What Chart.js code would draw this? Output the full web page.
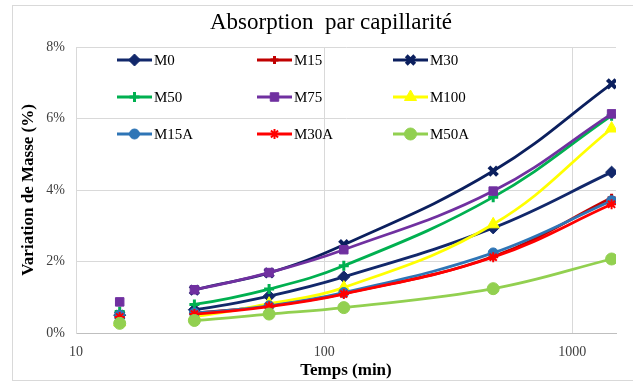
<!DOCTYPE html>
<html>
<head>
<meta charset="utf-8">
<script src="https://cdn.jsdelivr.net/npm/chart.js@4"></script>
<style>
  body { margin: 0; background: #fff; }
  #wrap { width: 633px; height: 381px; }
</style>
</head>
<body>
<div id="wrap"><canvas id="myChart" width="633" height="381"></canvas></div>
<script>
// time in minutes
const temps = [15, 30, 60, 120, 480, 1440];
const xTicks = [10, 100, 1000];
const yTicks = [0, 2, 4, 6, 8];

// mass variation (%)
const M0   = [0.50, 0.65, 1.03, 1.57, 2.94, 4.50];
const M15  = [0.45, 0.56, 0.76, 1.10, 2.14, 3.78];
const M30  = [0.50, 1.20, 1.68, 2.47, 4.53, 6.97];
const M50  = [0.60, 0.80, 1.23, 1.88, 3.80, 6.08];
const M75  = [0.87, 1.21, 1.69, 2.33, 3.97, 6.13];
const M100 = [0.30, 0.46, 0.82, 1.27, 3.04, 5.72];
const M15A = [0.50, 0.56, 0.76, 1.13, 2.24, 3.70];
const M30A = [0.45, 0.53, 0.74, 1.09, 2.12, 3.60];
const M50A = [0.27, 0.35, 0.53, 0.71, 1.24, 2.07];

const names = ['M0', 'M15', 'M30', 'M50', 'M75', 'M100', 'M15A', 'M30A', 'M50A'];
const values = [M0, M15, M30, M50, M75, M100, M15A, M30A, M50A];
const colors = ['#12286b', '#c00000', '#0b1f5e', '#00b050', '#7030a0', '#ffff00', '#2e75b6', '#ff0000', '#92d050'];
const styles = ['rectRot', 'cross', 'crossRot', 'cross', 'rect', 'triangle', 'circle', 'star', 'circle'];
const radii  = [6, 4, 6, 5, 6, 7, 5, 5, 6];
const pbw    = [1, 3, 4, 3, 1, 1, 1, 2, 1];

const datasets = names.map((n, i) => ({
  label: n,
  data: temps.map((t, k) => ({x: t, y: values[i][k]})),
  borderColor: colors[i],
  backgroundColor: colors[i],
  pointBackgroundColor: colors[i],
  pointBorderColor: colors[i],
  pointStyle: styles[i],
  pointRadius: radii[i],
  pointBorderWidth: pbw[i],
  borderWidth: 2.8,
  tension: 0.4,
  order: names.length - i,
  // no line between the first two points
  segment: { borderColor: ctx => ctx.p0DataIndex === 0 ? 'rgba(0,0,0,0)' : undefined }
}));

const frameAndText = {
  id: 'frameAndText',
  beforeDraw(chart) {
    const c = chart.ctx;
    c.save();
    c.fillStyle = '#fff';
    c.fillRect(0, 0, chart.width, chart.height);
    c.strokeStyle = '#d9d9d9';
    c.lineWidth = 1;
    c.strokeRect(12.5, 5.5, 700, 375);
    c.restore();
  },
  afterDraw(chart) {
    const c = chart.ctx;
    c.save();
    c.fillStyle = '#000';
    c.font = '23px "Liberation Serif"';
    c.textAlign = 'center';
    c.textBaseline = 'middle';
    c.fillText('Absorption  par capillarité', 331, 23);

    // legend in 3 columns
    const colX = [117, 257, 393];
    const rowY = [60, 97, 134];
    chart.data.datasets.forEach((ds, i) => {
      const x0 = colX[i % 3], y = rowY[Math.floor(i / 3)];
      c.strokeStyle = ds.borderColor;
      c.lineWidth = 2.8;
      c.beginPath();
      c.moveTo(x0, y);
      c.lineTo(x0 + 35, y);
      c.stroke();
      c.fillStyle = ds.pointBackgroundColor;
      c.strokeStyle = ds.pointBorderColor;
      c.lineWidth = ds.pointBorderWidth;
      Chart.helpers.drawPoint(c, {pointStyle: ds.pointStyle, radius: ds.pointRadius, rotation: 0, borderWidth: ds.pointBorderWidth}, x0 + 17.5, y);
      c.fillStyle = '#000';
      c.font = '15px "Liberation Serif"';
      c.textAlign = 'left';
      c.fillText(ds.label, x0 + 37, y + 1);
    });
    c.restore();
  }
};

new Chart(document.getElementById('myChart'), {
  type: 'line',
  data: { datasets: datasets },
  options: {
    responsive: false,
    animation: false,
    layout: { padding: { top: 47, right: 17, left: 0, bottom: 0 } },
    plugins: { legend: { display: false }, tooltip: { enabled: false } },
    scales: {
      x: {
        type: 'logarithmic',
        min: 10,
        max: 1500,
        afterBuildTicks: s => { s.ticks = xTicks.map(v => ({value: v})); },
        afterFit: s => { s.height = 48; },
        ticks: {
          color: '#404040',
          font: { family: 'Liberation Serif', size: 14 },
          padding: 11,
          maxRotation: 0,
          callback: v => String(v)
        },
        grid: { color: '#d9d9d9', drawTicks: false },
        border: { color: '#bfbfbf' },
        title: {
          display: true,
          text: 'Temps (min)',
          color: '#000',
          font: { family: 'Liberation Serif', size: 17, weight: 'bold' },
          padding: { top: 0, bottom: 0 }
        }
      },
      y: {
        min: 0,
        max: 8,
        afterBuildTicks: s => { s.ticks = yTicks.map(v => ({value: v})); },
        afterFit: s => { s.width = 76; },
        ticks: {
          color: '#404040',
          font: { family: 'Liberation Serif', size: 14 },
          padding: 11,
          callback: v => v + '%'
        },
        grid: { color: '#d9d9d9', drawTicks: false },
        border: { color: '#d9d9d9' },
        title: {
          display: true,
          text: 'Variation de Masse (%)',
          color: '#000',
          font: { family: 'Liberation Serif', size: 17, weight: 'bold' },
          padding: { top: 18, bottom: 0 }
        }
      }
    }
  },
  plugins: [frameAndText]
});
</script>
</body>
</html>
